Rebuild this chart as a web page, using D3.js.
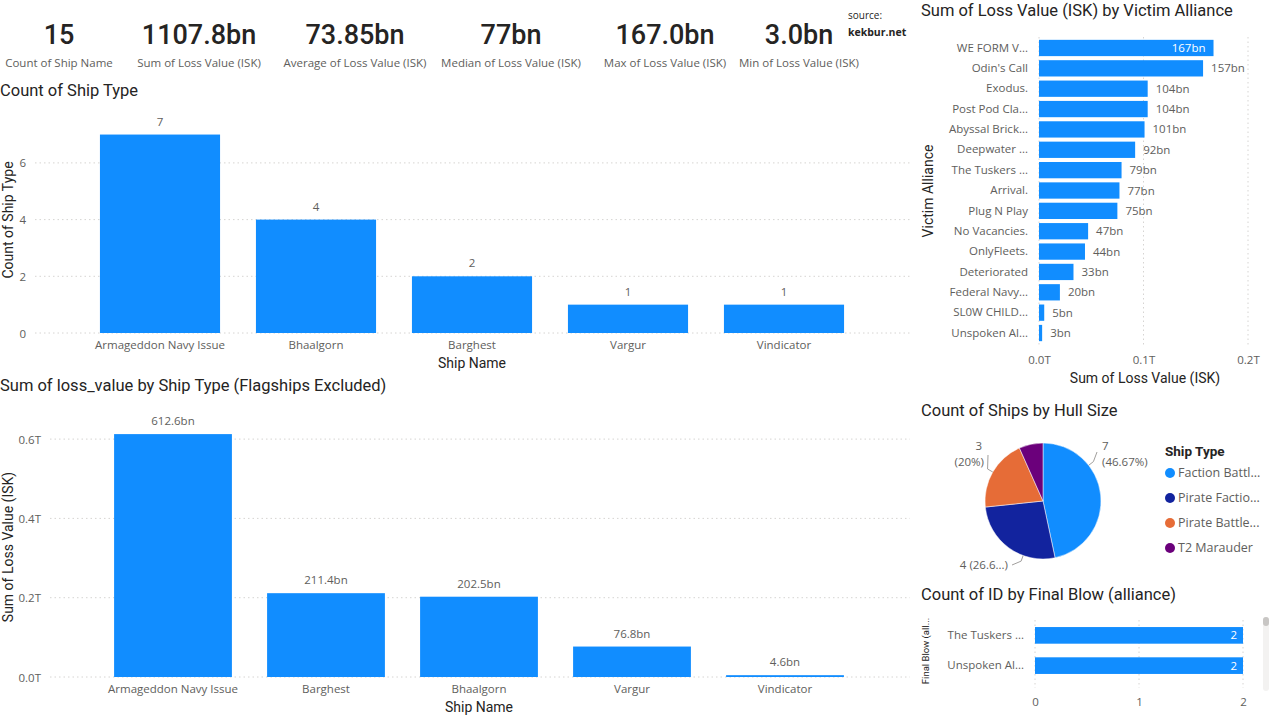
<!DOCTYPE html>
<html><head><meta charset="utf-8">
<script src="https://cdn.jsdelivr.net/npm/d3@7"></script>
<style>
body{margin:0;background:#fff;overflow:hidden}
svg{display:block}
.title{font-family:Roboto,"DejaVu Sans";font-size:16.5px;fill:#252423;font-weight:400}
.lab{font-family:"Open Sans","Noto Sans";font-size:11.5px;fill:#605E5C}
.axt{font-family:Roboto,"Open Sans";font-size:14px;fill:#252423;font-weight:400}
.kpi{font-family:Roboto;font-size:27px;fill:#252423;font-weight:500}
</style></head><body>
<svg id="c" width="1274" height="717"></svg>
<script>
// ---- data ----
const kpiValues = ["15","1107.8bn","73.85bn","77bn","167.0bn","3.0bn"];
const kpiLabels = ["Count of Ship Name","Sum of Loss Value (ISK)","Average of Loss Value (ISK)","Median of Loss Value (ISK)","Max of Loss Value (ISK)","Min of Loss Value (ISK)"];

const countShipNames = ["Armageddon Navy Issue","Bhaalgorn","Barghest","Vargur","Vindicator"];
const countShipValues = [7,4,2,1,1];
const countTicks = [0,2,4,6];

const lossShipNames = ["Armageddon Navy Issue","Barghest","Bhaalgorn","Vargur","Vindicator"];
const lossShipValues = [612.6,211.4,202.5,76.8,4.6]; // bn
const lossTicks = [0,200,400,600]; // bn

const allianceNames = ["WE FORM V...","Odin's Call","Exodus.","Post Pod Cla...","Abyssal Brick...","Deepwater ...","The Tuskers ...","Arrival.","Plug N Play","No Vacancies.","OnlyFleets.","Deteriorated","Federal Navy...","SL0W CHILD...","Unspoken Al..."];
const allianceValues = [167,157,104,104,101,92,79,77,75,47,44,33,20,5,3]; // bn
const allianceTicks = [0,100,200];

const hullTypes = ["Faction Battl...","Pirate Factio...","Pirate Battle...","T2 Marauder"];
const hullCounts = [7,4,3,1];
const hullColors = ["#118DFF","#12239E","#E66C37","#6B007B"];

const finalBlowNames = ["The Tuskers ...","Unspoken Al..."];
const finalBlowCounts = [2,2];
const finalBlowTicks = [0,1,2];

const BLUE = "#118DFF", GRID = "#d6d4d2";
const svg = d3.select("#c");

// ---- KPI cards ----
const kpiX = [59,199,355,511,665,799];
kpiValues.forEach((v,i)=>{
  svg.append("text").attr("class","kpi").attr("x",kpiX[i]).attr("y",44).attr("text-anchor","middle").text(v);
  svg.append("text").attr("class","lab").attr("x",kpiX[i]).attr("y",67).attr("text-anchor","middle").style("font-size","11.5px").text(kpiLabels[i]);
});
svg.append("text").attr("class","lab").attr("x",848).attr("y",19).style("font-size","10px").style("fill","#252423").text("source:");
svg.append("text").attr("class","lab").attr("x",848).attr("y",36).style("font-size","10.5px").style("fill","#252423").style("font-weight","700").text("kekbur.net");

// ---- vertical bar chart helper ----
function vbar(opt){
  const g = svg.append("g");
  g.append("text").attr("class","title").attr("x",0).attr("y",opt.titleY).text(opt.title);
  const x = d3.scaleBand().domain(opt.names).range(opt.xr).paddingInner(0.23).paddingOuter(0.115);
  const y = d3.scaleLinear().domain(opt.yd).range(opt.yr);
  g.selectAll(".gl").data(opt.ticks).join("line")
    .attr("x1",opt.gridX0).attr("x2",910).attr("y1",d=>y(d)).attr("y2",d=>y(d))
    .attr("stroke",GRID).attr("stroke-dasharray","1.5,3");
  const ya = d3.axisLeft(y).tickValues(opt.ticks).tickSize(0).tickFormat(opt.tf);
  const yg = g.append("g").attr("transform",`translate(${opt.gridX0-6},0)`).call(ya);
  yg.select(".domain").remove();
  yg.selectAll("text").attr("class","lab").attr("fill",null).style("font-size","11.5px").attr("dy","0.35em");
  g.selectAll(".b").data(opt.values).join("rect")
    .attr("x",(d,i)=>x(opt.names[i])).attr("width",x.bandwidth())
    .attr("y",d=>y(d)).attr("height",d=>Math.max(y(0)-y(d),1.5)).attr("fill",BLUE);
  g.selectAll(".v").data(opt.values).join("text").attr("class","lab")
    .attr("x",(d,i)=>x(opt.names[i])+x.bandwidth()/2).attr("y",d=>y(d)-9)
    .attr("text-anchor","middle").text(opt.vf);
  const xa = d3.axisBottom(x).tickSize(0);
  const xg = g.append("g").attr("transform",`translate(0,${y(0)+5})`).call(xa);
  xg.select(".domain").remove();
  xg.selectAll("text").attr("class","lab").attr("fill",null).style("font-size","11.5px");
  g.append("text").attr("class","axt").attr("x",(opt.xr[0]+opt.xr[1])/2).attr("y",y(0)+35).attr("text-anchor","middle").text("Ship Name");
  g.append("text").attr("class","axt").attr("transform",`translate(13,${opt.ytitleY}) rotate(-90)`).attr("text-anchor","middle").text(opt.ytitle);
}

vbar({title:"Count of Ship Type",titleY:96,names:countShipNames,values:countShipValues,
  xr:[82,862],yd:[0,7.2],yr:[333,333-7.2*28.35],ticks:countTicks,gridX0:35,
  tf:d=>d,vf:d=>d,ytitle:"Count of Ship Type",ytitleY:220});
vbar({title:"Sum of loss_value by Ship Type (Flagships Excluded)",titleY:391,names:lossShipNames,values:lossShipValues,
  xr:[96.5,861.5],yd:[0,650],yr:[677,677-650*0.3965],ticks:lossTicks,gridX0:50,
  tf:d=>(d/1000).toFixed(1)+"T",vf:d=>d.toFixed(1)+"bn",ytitle:"Sum of Loss Value (ISK)",ytitleY:547});

// ---- horizontal bar: alliance ----
(function(){
  const g = svg.append("g");
  g.append("text").attr("class","title").attr("x",921).attr("y",16).text("Sum of Loss Value (ISK) by Victim Alliance");
  const x = d3.scaleLinear().domain([0,200]).range([1039,1248]);
  const y = d3.scaleBand().domain(allianceNames).range([37.8,343.2]).paddingInner(0.2).paddingOuter(0.1);
  g.selectAll(".gl").data(allianceTicks).join("line").attr("x1",d=>x(d)).attr("x2",d=>x(d))
    .attr("y1",37).attr("y2",345).attr("stroke",GRID).attr("stroke-dasharray","1.5,3");
  g.selectAll(".b").data(allianceValues).join("rect").attr("x",x(0)).attr("y",(d,i)=>y(allianceNames[i]))
    .attr("height",y.bandwidth()).attr("width",d=>x(d)-x(0)).attr("fill",BLUE);
  g.selectAll(".v").data(allianceValues).join("text").attr("class","lab")
    .attr("x",d=>d>=160? x(d)-8 : x(d)+8).attr("y",(d,i)=>y(allianceNames[i])+y.bandwidth()/2).attr("dy","0.35em")
    .attr("text-anchor",d=>d>=160?"end":"start").style("fill",d=>d>=160?"#fff":"#605E5C").text(d=>d+"bn");
  const ya = d3.axisLeft(y).tickSize(0);
  const yg = g.append("g").attr("transform",`translate(${x(0)-8},0)`).call(ya);
  yg.select(".domain").remove();
  yg.selectAll("text").attr("class","lab").attr("fill",null).style("font-size","11.5px");
  const xa = d3.axisBottom(x).tickValues(allianceTicks).tickSize(0).tickFormat(d=>(d/1000).toFixed(1)+"T");
  const xg = g.append("g").attr("transform","translate(0,353)").call(xa);
  xg.select(".domain").remove();
  xg.selectAll("text").attr("class","lab").attr("fill",null).style("font-size","11.5px");
  g.append("text").attr("class","axt").attr("x",1145).attr("y",383).attr("text-anchor","middle").text("Sum of Loss Value (ISK)");
  g.append("text").attr("class","axt").attr("transform","translate(933,191) rotate(-90)").attr("text-anchor","middle").text("Victim Alliance");
})();

// ---- pie ----
(function(){
  const g = svg.append("g");
  g.append("text").attr("class","title").attr("x",921).attr("y",416).text("Count of Ships by Hull Size");
  const cx=1043, cy=501, r=58;
  const pg = g.append("g").attr("transform",`translate(${cx},${cy})`);
  const arcs = d3.pie().sort(null)(hullCounts);
  const arc = d3.arc().innerRadius(0).outerRadius(r);
  pg.selectAll("path").data(arcs).join("path").attr("d",arc).attr("fill",(d,i)=>hullColors[i]).attr("stroke","#fff").attr("stroke-width",0.5);
  const total = d3.sum(hullCounts);
  const labAng = [52,200,300];
  const lineEnd = [[1097,452],[1012,565],[988,455]];
  [0,1,2].forEach(i=>{
    const a = labAng[i]*Math.PI/180;
    const px = cx + Math.sin(a)*r, py = cy - Math.cos(a)*r;
    const p2 = [px+Math.sin(a)*6, py-Math.cos(a)*6];
    g.append("polyline").attr("points",`${px},${py} ${p2[0]},${p2[1]} ${lineEnd[i][0]},${lineEnd[i][1]}`)
      .attr("fill","none").attr("stroke","#a19f9d").attr("stroke-width",1);
  });
  const pct = hullCounts.map(v=>v/total*100);
  const fmt = p => (Math.round(p*100)/100)+"%";
  g.append("text").attr("class","lab").attr("x",1102).attr("y",450).text(hullCounts[0]);
  g.append("text").attr("class","lab").attr("x",1102).attr("y",466).text("("+fmt(pct[0])+")");
  g.append("text").attr("class","lab").attr("x",982).attr("y",450).attr("text-anchor","end").text(hullCounts[2]);
  g.append("text").attr("class","lab").attr("x",984).attr("y",466).attr("text-anchor","end").text("("+fmt(pct[2])+")");
  g.append("text").attr("class","lab").attr("x",1008).attr("y",569).attr("text-anchor","end").text(hullCounts[1]+" ("+fmt(pct[1]).slice(0,4)+"...)");
  g.append("text").attr("class","axt").attr("x",1165).attr("y",456).style("font-weight","700").style("font-size","13.5px").text("Ship Type");
  hullTypes.forEach((t,i)=>{
    const yy = 473 + i*25;
    g.append("circle").attr("cx",1170).attr("cy",yy).attr("r",5).attr("fill",hullColors[i]);
    g.append("text").attr("class","lab").attr("x",1178).attr("y",yy).attr("dy","0.35em").style("font-size","12.5px").text(t);
  });
})();

// ---- final blow ----
(function(){
  const g = svg.append("g");
  g.append("text").attr("class","title").attr("x",921).attr("y",600).text("Count of ID by Final Blow (alliance)");
  const x = d3.scaleLinear().domain([0,2]).range([1035,1243]);
  const y = d3.scaleBand().domain(finalBlowNames).range([621,680]).paddingInner(0.45).paddingOuter(0.2);
  g.selectAll(".gl").data(finalBlowTicks).join("line").attr("x1",d=>x(d)).attr("x2",d=>x(d))
    .attr("y1",620).attr("y2",688).attr("stroke",GRID).attr("stroke-dasharray","1.5,3");
  g.selectAll(".b").data(finalBlowCounts).join("rect").attr("x",x(0)).attr("y",(d,i)=>y(finalBlowNames[i]))
    .attr("height",y.bandwidth()).attr("width",d=>x(d)-x(0)).attr("fill",BLUE);
  g.selectAll(".v").data(finalBlowCounts).join("text").attr("class","lab")
    .attr("x",d=>x(d)-6).attr("y",(d,i)=>y(finalBlowNames[i])+y.bandwidth()/2).attr("dy","0.35em")
    .attr("text-anchor","end").style("fill","#fff").text(d=>d);
  const yg = g.append("g").attr("transform",`translate(${x(0)-8},0)`).call(d3.axisLeft(y).tickSize(0));
  yg.select(".domain").remove();
  yg.selectAll("text").attr("class","lab").attr("fill",null).style("font-size","11.5px");
  const xg = g.append("g").attr("transform","translate(0,695)").call(d3.axisBottom(x).tickValues(finalBlowTicks).tickSize(0).tickFormat(d3.format("d")));
  xg.select(".domain").remove();
  xg.selectAll("text").attr("class","lab").attr("fill",null).style("font-size","11.5px");
  g.append("text").attr("class","axt").attr("transform","translate(929,651) rotate(-90)").attr("text-anchor","middle").style("font-size","9.5px").text("Final Blow (all...");
  g.append("rect").attr("x",1263).attr("y",617).attr("width",6).attr("height",74).attr("rx",3).attr("fill","#f3f2f1");
  g.append("rect").attr("x",1263).attr("y",617).attr("width",6).attr("height",9).attr("rx",3).attr("fill","#c8c6c4");
})();
</script>
</body></html>
